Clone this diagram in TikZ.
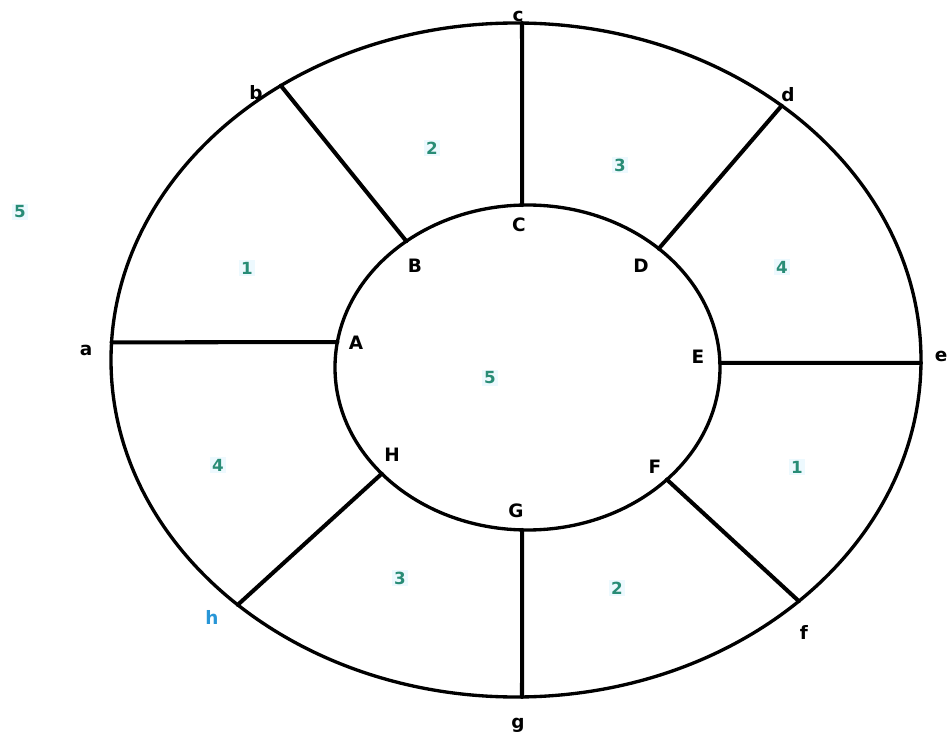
\documentclass[tikz,border=0pt]{standalone}
\usepackage{fontspec}
\setmainfont{DejaVu Sans}
\usetikzlibrary{calc}
\definecolor{numcol}{RGB}{40,140,118}
\definecolor{hcol}{RGB}{40,150,215}
\tikzset{
	lbl/.style={font=\fontsize{10.5}{11}\selectfont\bfseries, inner sep=0pt},
	num/.style={font=\fontsize{9.5}{10}\selectfont\bfseries, text=numcol, fill=cyan!7, inner sep=1pt},
	spoke/.style={line width=2.3pt}
}
\begin{document}
\begin{tikzpicture}[x=0.02cm, y=-0.02cm, line join=round, line cap=round]
	\useasboundingbox (0,0) rectangle (951,740);
	\coordinate (O) at (516,360);
	\coordinate (I) at (527.5,367.5);
	\draw[line width=1.9pt] (O) ellipse [x radius=405, y radius=337];
	\draw[line width=1.9pt] (I) ellipse [x radius=192.5, y radius=162.5];
	% points on the outer ring
	\coordinate (a) at ($(O)+(183:405 and 337)$);
	\coordinate (b) at ($(O)+(234.5:405 and 337)$);
	\coordinate (c) at ($(O)+(270.85:405 and 337)$);
	\coordinate (d) at ($(O)+(311:405 and 337)$);
	\coordinate (e) at ($(O)+(0.5:405 and 337)$);
	\coordinate (f) at ($(O)+(45.7:405 and 337)$);
	\coordinate (g) at ($(O)+(89.15:405 and 337)$);
	\coordinate (h) at ($(O)+(133.4:405 and 337)$);
	% points on the inner ring
	\coordinate (A) at ($(I)+(189:192.5 and 162.5)$);
	\coordinate (B) at ($(I)+(231:192.5 and 162.5)$);
	\coordinate (C) at ($(I)+(268.4:192.5 and 162.5)$);
	\coordinate (D) at ($(I)+(313:192.5 and 162.5)$);
	\coordinate (E) at ($(I)+(358.4:192.5 and 162.5)$);
	\coordinate (F) at ($(I)+(43.6:192.5 and 162.5)$);
	\coordinate (G) at ($(I)+(91.6:192.5 and 162.5)$);
	\coordinate (H) at ($(I)+(139.2:192.5 and 162.5)$);
	\foreach \p/\q in {a/A, b/B, c/C, d/D, e/E, f/F, g/G, h/H}
		\draw[spoke] (\p) -- (\q);
	% letters
	\node[lbl] (la) at (86,350) {a};
	\node[lbl] (lb) at (256,93) {b};
	\node[lbl] (lc) at (518,16) {c};
	\node[lbl] (ld) at (788,95) {d};
	\node[lbl] (le) at (941,356) {e};
	\node[lbl] (lf) at (804,632) {f};
	\node[lbl] (lg) at (518,725) {g};
	\node[lbl, text=hcol] (lh) at (212,617) {h};
	\node[lbl] (lA) at (356,343) {A};
	\node[lbl] (lB) at (415,266) {B};
	\node[lbl] (lC) at (519,225) {C};
	\node[lbl] (lD) at (641,266) {D};
	\node[lbl] (lE) at (698,357) {E};
	\node[lbl] (lF) at (655,467) {F};
	\node[lbl] (lG) at (516,511) {G};
	\node[lbl] (lH) at (392,455) {H};
	% region numbers
	\node[num] (n1a) at (247,268) {1};
	\node[num] (n2a) at (432,148) {2};
	\node[num] (n3a) at (620,165) {3};
	\node[num] (n4a) at (782,267) {4};
	\node[num] (n5a) at (490,378) {5};
	\node[num] (n4b) at (218,465) {4};
	\node[num] (n1b) at (797,467) {1};
	\node[num] (n3b) at (400,578) {3};
	\node[num] (n2b) at (617,588) {2};
	\node[num] (n5b) at (20,212) {5};
\end{tikzpicture}
\end{document}
